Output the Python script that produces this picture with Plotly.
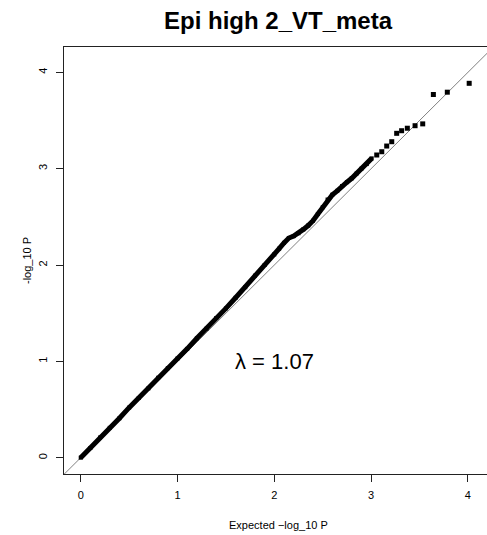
import plotly.graph_objects as go

# Expected vs observed -log10 P, dense stretch of the QQ curve
expected_dense = [0.00, 0.10, 0.20, 0.30, 0.40, 0.50, 0.60, 0.70, 0.80, 0.90,
                  1.00, 1.10, 1.20, 1.30, 1.40, 1.50, 1.60, 1.70, 1.80, 1.90,
                  2.00, 2.05, 2.10, 2.15, 2.20, 2.25, 2.30, 2.35, 2.40, 2.45,
                  2.50, 2.55, 2.60, 2.65, 2.70, 2.75, 2.80, 2.85, 2.90, 2.955,
                  3.006]
observed_dense = [0.00, 0.10, 0.21, 0.31, 0.41, 0.52, 0.62, 0.72, 0.83, 0.93,
                  1.03, 1.13, 1.24, 1.34, 1.45, 1.55, 1.66, 1.77, 1.89, 2.00,
                  2.11, 2.17, 2.23, 2.28, 2.30, 2.33, 2.37, 2.41, 2.46, 2.53,
                  2.60, 2.68, 2.73, 2.77, 2.82, 2.86, 2.90, 2.95, 3.00, 3.048,
                  3.107]

# Sparse upper tail
expected_tail = [3.058, 3.11, 3.161, 3.213, 3.264, 3.315,
                 3.374, 3.454, 3.533, 3.643, 3.787, 4.013]
observed_tail = [3.142, 3.176, 3.235, 3.28, 3.367, 3.394,
                 3.42, 3.446, 3.465, 3.77, 3.794, 3.886]

tick_values = [0, 1, 2, 3, 4]
tick_labels = ["0", "1", "2", "3", "4"]

lambda_text = "\u03bb = 1.07"
lambda_pos = (2.0, 1.0)

FONT = "Liberation Sans, Arial, Helvetica, sans-serif"
AXIS_COLOR = "#222222"

fig = go.Figure()

# Reference line y = x
fig.add_trace(go.Scatter(x=[-1, 5], y=[-1, 5], mode="lines",
                         line=dict(color="#808080", width=1),
                         hoverinfo="skip", showlegend=False))

fig.add_trace(go.Scatter(x=expected_dense, y=observed_dense, mode="lines+markers",
                         line=dict(color="black", width=5),
                         marker=dict(symbol="square", size=4, color="black"),
                         showlegend=False))

fig.add_trace(go.Scatter(x=expected_tail, y=observed_tail, mode="markers",
                         marker=dict(symbol="square", size=5, color="black"),
                         showlegend=False))

axis_common = dict(showgrid=False, zeroline=False, showline=True,
                   linecolor=AXIS_COLOR, linewidth=1,
                   ticks="outside", ticklen=7, tickwidth=1, tickcolor=AXIS_COLOR,
                   tickvals=tick_values, ticktext=tick_labels,
                   tickfont=dict(family=FONT, size=11, color="black"))

fig.update_layout(
    width=487, height=535, autosize=False,
    margin=dict(l=64, r=0, t=47, b=61, pad=0),
    paper_bgcolor="white", plot_bgcolor="white",
    xaxis=dict(range=[-0.1725, 4.197], mirror=True, ticklabelstandoff=4, **axis_common),
    yaxis=dict(range=[-0.169, 4.263], mirror=False, tickangle=-90,
               ticklabelstandoff=5, **axis_common),
    annotations=[
        dict(text="<b>Epi high 2_VT_meta</b>", xref="paper", yref="paper",
             x=(278 - 64) / 423, y=1 + (47 - 21) / 427, xanchor="center", yanchor="middle",
             showarrow=False, font=dict(family=FONT, size=24, color="black")),
        dict(text="Expected \u2212log_10 P", xref="paper", yref="paper",
             x=(278 - 64) / 423, y=-(525 - 474) / 427, xanchor="center", yanchor="middle",
             showarrow=False, font=dict(family=FONT, size=11, color="black")),
        dict(text="-log_10 P", xref="paper", yref="paper", textangle=-90,
             x=-(64 - 27) / 423, y=(474 - 261) / 427, xanchor="center", yanchor="middle",
             showarrow=False, font=dict(family=FONT, size=11, color="black")),
        dict(text=lambda_text, x=lambda_pos[0], y=lambda_pos[1], xref="x", yref="y",
             xanchor="center", yanchor="middle", showarrow=False,
             font=dict(family=FONT, size=22, color="black")),
    ],
)

fig.write_html("out.html", config={"displayModeBar": False})
